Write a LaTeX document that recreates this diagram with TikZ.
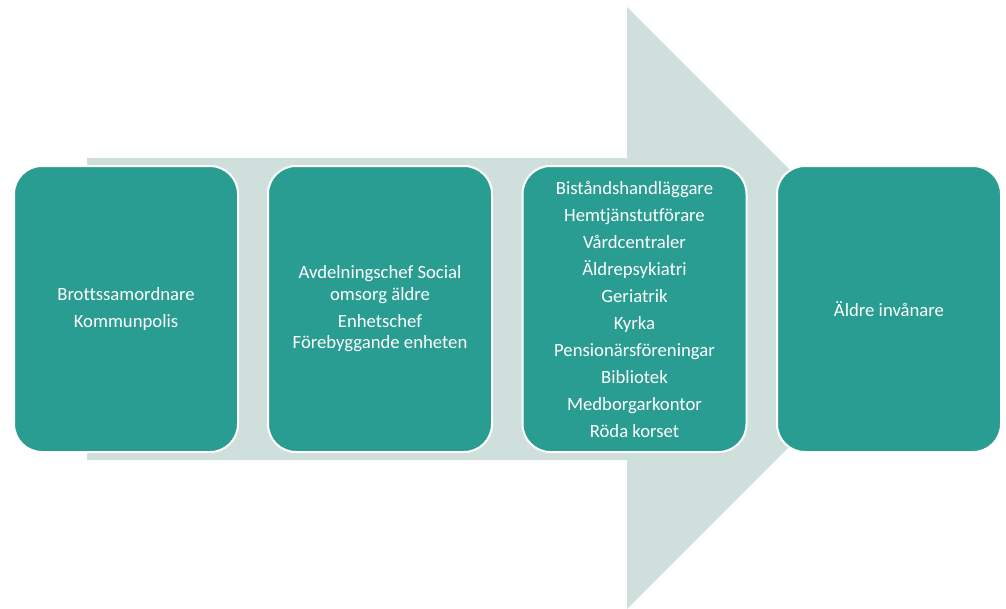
\documentclass[tikz,border=0pt]{standalone}
\usepackage{fontspec}
\setmainfont[Ligatures={NoCommon}]{Carlito}
\definecolor{teal1}{HTML}{2A9D92}
\definecolor{arrowc}{HTML}{CFE0DC}
\begin{document}
\begin{tikzpicture}[x=1pt,y=-1pt,
  card/.style={rectangle, rounded corners=28pt, fill=teal1, draw=white, line width=2pt,
    minimum width=224pt, minimum height=286pt, text=white, align=center,
    font=\fontsize{18.7}{21.5}\selectfont, inner sep=0pt}]
\useasboundingbox (0,0) rectangle (1006,608);
\fill[arrowc] (87,158) -- (627,158) -- (627,7) -- (928,308) -- (627,609) -- (627,460) -- (87,460) -- cycle;
\node[card] (b1) at (126,309) {Brottssamordnare\\[5.5pt]Kommunpolis};
\node[card] (b2) at (380,309) {Avdelningschef Social\\omsorg äldre\\[5.5pt]Enhetschef\\Förebyggande enheten};
\node[card] (b3) at (634.5,309) {Biståndshandläggare\\[5.5pt]Hemtjänstutförare\\[5.5pt]Vårdcentraler\\[5.5pt]Äldrepsykiatri\\[5.5pt]Geriatrik\\[5.5pt]Kyrka\\[5.5pt]Pensionärsföreningar\\[5.5pt]Bibliotek\\[5.5pt]Medborgarkontor\\[5.5pt]Röda korset};
\node[card] (b4) at (889,309) {Äldre invånare};
\end{tikzpicture}
\end{document}
